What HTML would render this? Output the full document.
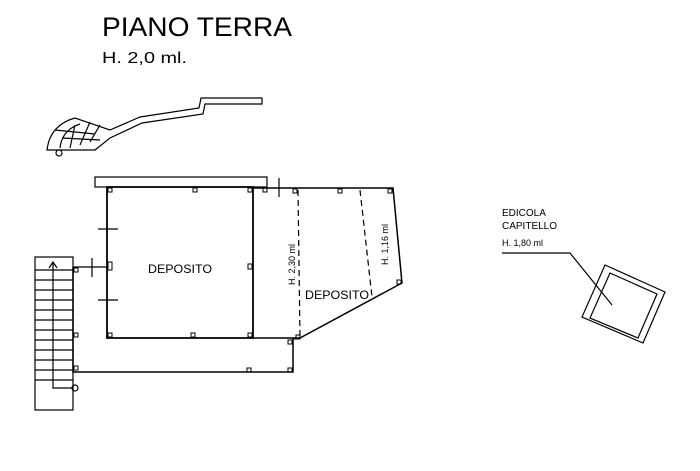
<!DOCTYPE html>
<html><head><style>
body{margin:0;background:#fff;}
svg{display:block;font-family:"Liberation Sans",sans-serif;}
</style></head><body>
<svg width="700" height="471" viewBox="0 0 700 471" xmlns="http://www.w3.org/2000/svg">
<g fill="#000">
<text x="102" y="36" font-size="27" textLength="190" lengthAdjust="spacingAndGlyphs">PIANO TERRA</text>
<text x="102" y="63" font-size="16" textLength="85" lengthAdjust="spacingAndGlyphs">H. 2,0 ml.</text>
<text x="148" y="273" font-size="12" textLength="64" lengthAdjust="spacingAndGlyphs">DEPOSITO</text>
<text x="305" y="299" font-size="12" textLength="64" lengthAdjust="spacingAndGlyphs">DEPOSITO</text>
<text x="0" y="0" font-size="9" transform="translate(295,285) rotate(-90)">H. 2,30 ml</text>
<text x="0" y="0" font-size="9" transform="translate(388,265) rotate(-90)">H. 1,16 ml</text>
<text x="502" y="216" font-size="10">EDICOLA</text>
<text x="502" y="229" font-size="10">CAPITELLO</text>
<text x="502" y="246" font-size="9">H. 1,80 ml</text>
</g>
<g fill="none" stroke="#000" stroke-width="1.2">
<path d="M47,150 Q50,125 75,118 L110,130 L140,117 L199,108 L201,98 L262,98 L262,104 L205,104 L203,114 L142,123 L110,138 L95,150 Z"/>
<path d="M60,148 Q62,130 80,124 M70,148 L75,125 M80,145 L90,122 M90,142 L100,125 M62,138 L100,140 M55,130 L95,134"/>
<circle cx="59" cy="153" r="3"/>
<rect x="95" y="177" width="172" height="10"/>
<path d="M107,187 L253,187 L253,338 L107,338 Z" stroke-width="1.8"/>
<path d="M253,188 L393,188 L402,283 L300,338 L253,338" stroke-width="1.5"/>
<path d="M300,338 L293,339 L293,372 L73,372 L73,267" stroke-width="1.5"/>
<rect x="35" y="257" width="38" height="153"/>
<path d="M35,270H73M35,280H73M35,290H73M35,300H73M35,310H73M35,320H73M35,330H73M35,340H73M35,350H73M35,360H73M35,370H73M35,380H73"/>
<path d="M53,262 L53,388 L73,388 M49,268 L53,262 L57,268"/>
<circle cx="75" cy="388" r="3"/>
<path d="M98,229H118M98,300H118M92,267H107M92,258V277M279,178V197M73,267H107"/>
<path d="M298,190 L300,338 M360,190 L372,297" stroke-dasharray="6,4"/>
<g stroke-width="1">
<rect x="108" y="188" width="4" height="4"/><rect x="193" y="188" width="4" height="4"/><rect x="248" y="188" width="4" height="4"/><rect x="263" y="188" width="4" height="4"/><rect x="293" y="189" width="4" height="4"/><rect x="338" y="189" width="4" height="4"/><rect x="388" y="189" width="4" height="4"/><rect x="397" y="280" width="4" height="4"/>
<rect x="108" y="262" width="4" height="8"/><rect x="248" y="264" width="4" height="5"/><rect x="108" y="333" width="4" height="4"/><rect x="191" y="333" width="4" height="4"/><rect x="248" y="333" width="4" height="4"/><rect x="296" y="335" width="4" height="4"/>
<rect x="288" y="340" width="4" height="4"/><rect x="247" y="368" width="4" height="4"/><rect x="288" y="368" width="4" height="4"/><rect x="74" y="366" width="4" height="4"/><rect x="74" y="333" width="4" height="4"/><rect x="74" y="268" width="4" height="4"/>
</g>
<path d="M502,253 L570,253 L612,305"/>
<path d="M605,265 L665,292 L643,343 L582,317 Z"/>
<path d="M610,273 L657,294 L638,338 L590,318 Z"/>
</g>
</svg>
</body></html>
